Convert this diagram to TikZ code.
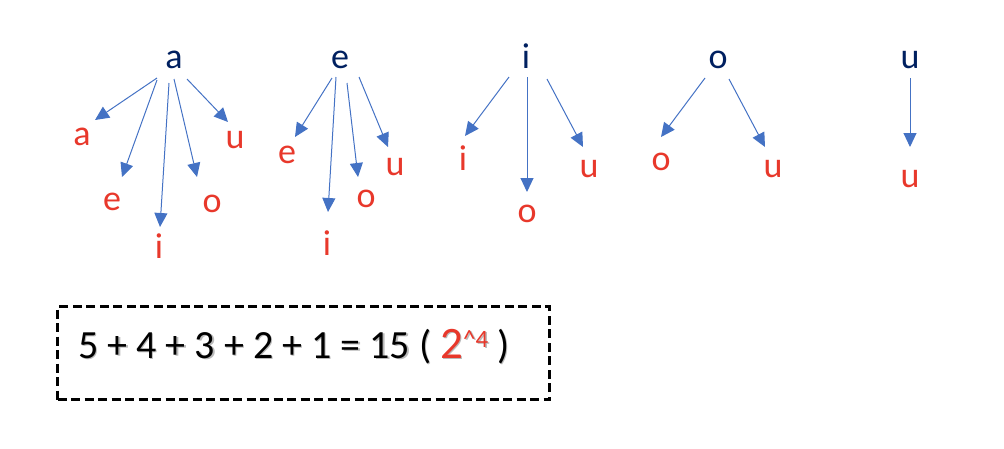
\documentclass[tikz,border=0pt]{standalone}
\usepackage{fontspec}
\setmainfont{Carlito}
\usetikzlibrary{arrows.meta,calc}
\definecolor{navy}{HTML}{002060}
\definecolor{vred}{HTML}{E8382B}
\definecolor{ablue}{HTML}{4472C4}
\newcommand{\exprtext}[1]{5 + 4 + 3 + 2 + 1 = 15 ( {\color{#1}\fontsize{45}{45}\selectfont 2\raisebox{11pt}{\fontsize{25}{25}\selectfont\textasciicircum 4}} )}
\begin{document}
\begin{tikzpicture}[x=1pt,y=-1pt,
  parent/.style={anchor=base,inner sep=0pt,text=navy,font=\fontsize{36}{36}\selectfont},
  child/.style={anchor=base,inner sep=0pt,text=vred,font=\fontsize{36}{36}\selectfont},
  arr/.style={draw=ablue,line width=1pt,-{Triangle[length=14pt,width=13pt]}},
  exprstyle/.style={anchor=base west,inner sep=0pt,font=\fontsize{40}{40}\selectfont},
  boxstyle/.style={draw=black,line width=3pt,dash pattern=on 9pt off 4.5pt,minimum width=492pt,minimum height=93pt,inner sep=0pt}]
\useasboundingbox (0,0) rectangle (1004,448);
% parents
\node[parent] (pa) at (174,68) {a};
\node[parent] (pe) at (340,68) {e};
\node[parent] (pi) at (526,68) {i};
\node[parent] (po) at (718,68) {o};
\node[parent] (pu) at (910,68) {u};
% children of a
\node[child] (aa) at (82,145) {a};
\node[child] (ae) at (112,210) {e};
\node[child] (ai) at (159,258) {i};
\node[child] (ao) at (212,212) {o};
\node[child] (au) at (235,148) {u};
% children of e
\node[child] (ee) at (287,163) {e};
\node[child] (ei) at (327,255) {i};
\node[child] (eo) at (366,207) {o};
\node[child] (eu) at (395,175) {u};
% children of i
\node[child] (ii) at (463,170) {i};
\node[child] (io) at (527,222) {o};
\node[child] (iu) at (589,177) {u};
% children of o
\node[child] (oo) at (661,170) {o};
\node[child] (ou) at (773,177) {u};
% child of u
\node[child] (uu) at (910,187) {u};
% arrows a
\draw[arr] ($(pa.base)+(-17,10)$) -- ($(aa.base)+(13,-25)$);
\draw[arr] ($(pa.base)+(-17,12)$) -- ($(ae.base)+(10,-33)$);
\draw[arr] ($(pa.base)+(-5,15)$) -- ($(ai.base)+(1,-31)$);
\draw[arr] ($(pa.base)+(0,11)$) -- ($(ao.base)+(-15,-35)$);
\draw[arr] ($(pa.base)+(13,11)$) -- ($(au.base)+(-7,-26)$);
% arrows e
\draw[arr] ($(pe.base)+(-8,10)$) -- ($(ee.base)+(8,-26)$);
\draw[arr] ($(pe.base)+(-4,9)$) -- ($(ei.base)+(1,-43)$);
\draw[arr] ($(pe.base)+(7,15)$) -- ($(eo.base)+(-8,-30)$);
\draw[arr] ($(pe.base)+(19,9)$) -- ($(eu.base)+(-7,-28)$);
% arrows i
\draw[arr] ($(pi.base)+(-17,9)$) -- ($(ii.base)+(2,-34)$);
\draw[arr] ($(pi.base)+(1,9)$) -- ($(io.base)+(0,-30)$);
\draw[arr] ($(pi.base)+(21,11)$) -- ($(iu.base)+(-6,-30)$);
% arrows o
\draw[arr] ($(po.base)+(-13,10)$) -- ($(oo.base)+(0,-33)$);
\draw[arr] ($(po.base)+(11,11)$) -- ($(ou.base)+(-8,-30)$);
% arrow u
\draw[arr] ($(pu.base)+(0,10)$) -- ($(uu.base)+(0,-40)$);
% box and expression
\node[boxstyle] (box) at (303.5,353) {};
\node[exprstyle,text=black!45,opacity=0.6] (exprshadow) at (79.5,359.5) {\exprtext{black!45}};
\node[exprstyle] (expr) at (78,358) {\exprtext{vred}};
\end{tikzpicture}
\end{document}
